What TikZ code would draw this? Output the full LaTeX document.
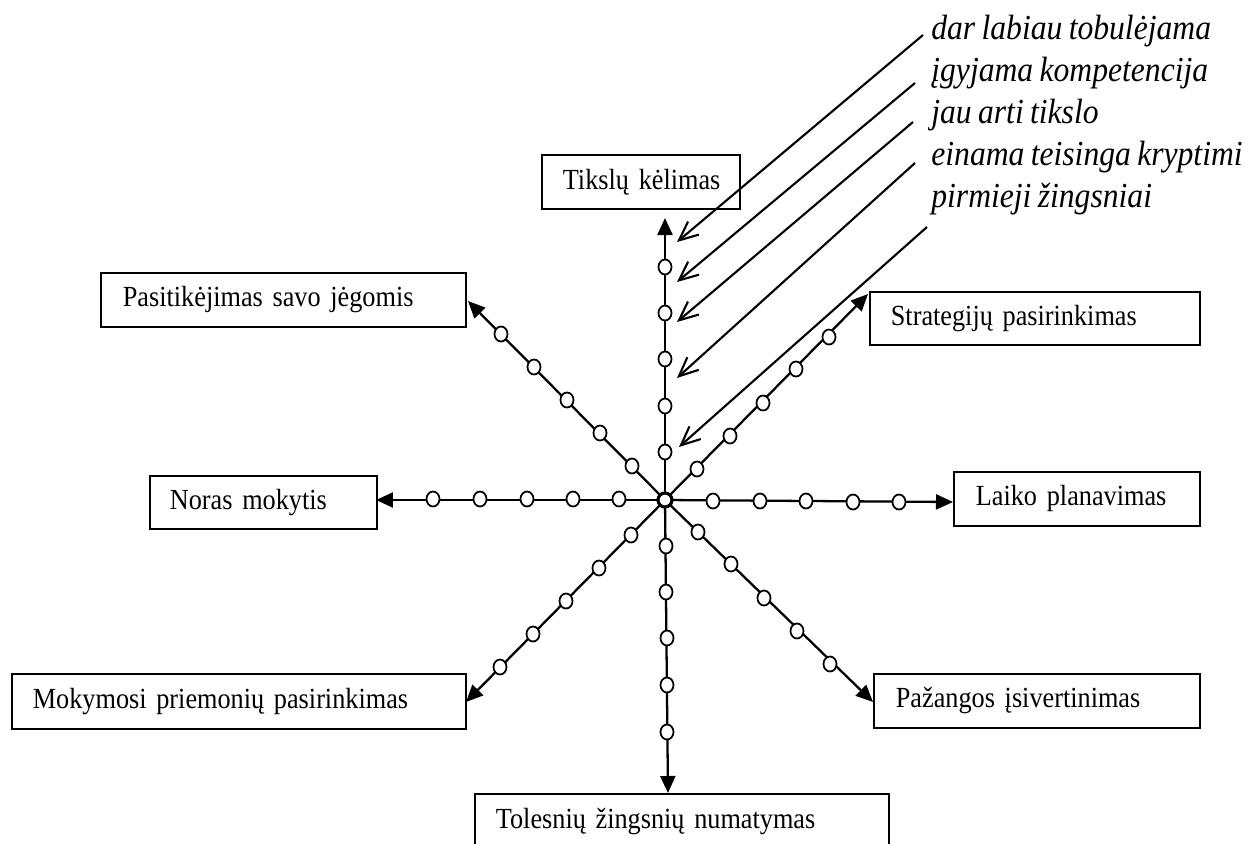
\documentclass[tikz,border=0pt]{standalone}
\usepackage{fontspec}
\setmainfont[FakeStretch=0.9,WordSpace=0.8]{Liberation Serif}
\usetikzlibrary{arrows.meta}
\begin{document}
\begin{tikzpicture}[x=0.02cm,y=-0.02cm,
  boxnode/.style={draw, line width=1pt, anchor=north west, inner ysep=0pt, align=left,
    font=\fontsize{16.6}{19}\selectfont},
  lab/.style={anchor=base west, inner sep=0pt, font=\fontsize{20}{23}\selectfont\itshape},
  axis/.style={line width=1.3pt, -{Triangle[length=0.34cm,width=0.3cm]}},
  pointer/.style={line width=1.2pt, -{Straight Barb[length=0.38cm,width=0.34cm,line width=1.2pt]}},
  dotc/.style={draw, fill=white, line width=1pt},
]
\useasboundingbox (0,0) rectangle (1252,843);
\clip (0,0) rectangle (1252,843);

% boxes
\node[boxnode, minimum width=3.96cm, minimum height=1.08cm, inner xsep=0.42cm, text width=3.12cm] (tik) at (541,154) {\mbox{Tikslų kėlimas}};
\node[boxnode, minimum width=7.3cm, minimum height=1.08cm, inner xsep=0.44cm, text width=6.42cm] (pas) at (100,272) {\mbox{Pasitikėjimas savo jėgomis}};
\node[boxnode, minimum width=6.6cm, minimum height=1.06cm, inner xsep=0.42cm, text width=5.76cm] (str) at (869,291) {\mbox{Strategijų pasirinkimas}};
\node[boxnode, minimum width=4.54cm, minimum height=1.06cm, inner xsep=0.4cm, text width=3.74cm] (nor) at (149,475) {\mbox{Noras mokytis}};
\node[boxnode, minimum width=4.92cm, minimum height=1.08cm, inner xsep=0.44cm, text width=4.04cm] (lai) at (953,471) {\mbox{Laiko planavimas}};
\node[boxnode, minimum width=9.08cm, minimum height=1.1cm, inner xsep=0.42cm, text width=8.24cm] (mok) at (11,673) {\mbox{Mokymosi priemonių pasirinkimas}};
\node[boxnode, minimum width=6.52cm, minimum height=1.08cm, inner xsep=0.44cm, text width=5.64cm] (paz) at (873,673) {\mbox{Pažangos įsivertinimas}};
\node[boxnode, minimum width=8.28cm, minimum height=1.12cm, inner xsep=0.42cm, text width=7.44cm] (tol) at (474,793) {\mbox{Tolesnių žingsnių numatymas}};

% labels
\node[lab] (l1) at (931,39) {dar labiau tobulėjama};
\node[lab] (l2) at (931,81) {įgyjama kompetencija};
\node[lab] (l3) at (931,123) {jau arti tikslo};
\node[lab] (l4) at (931,165) {einama teisinga kryptimi};
\node[lab] (l5) at (931,207) {pirmieji žingsniai};

% pointer arrows
\coordinate (p1s) at (923,35);  \coordinate (p1e) at (677,242);
\coordinate (p2s) at (915,83);  \coordinate (p2e) at (677,282);
\coordinate (p3s) at (913,122); \coordinate (p3e) at (677,322);
\coordinate (p4s) at (915,163); \coordinate (p4e) at (677,378);
\coordinate (p5s) at (927,227); \coordinate (p5e) at (679,447);
\foreach \i in {1,...,5} \draw[pointer] (p\i s) -- (p\i e);

% axes
\coordinate (c) at (665,500);
\coordinate (tU) at (665,218);
\coordinate (tD) at (668,793);
\coordinate (tL) at (376,500);
\coordinate (tR) at (953,502);
\coordinate (tUL) at (468,301);
\coordinate (tUR) at (868,294);
\coordinate (tLL) at (466,702);
\coordinate (tLR) at (873,702);
\foreach \t in {tU,tD,tL,tR,tUL,tUR,tLL,tLR} \draw[axis] (c) -- (\t);

% small circles
\foreach \p in {(665,452),(665,406),(665,359),(665,313),(665,267),
                (666,546),(666,592),(667,638),(667,685),(667,732),
                (619,499),(573,499),(527,499),(480,499),(433,499),
                (713,501),(760,501),(806,501),(853,502),(899,502),
                (632,466),(600,433),(567,400),(534,367),(501,334),
                (697,469),(730,436),(763,403),(796,369),(829,337),
                (631,535),(599,568),(566,601),(533,634),(500,667),
                (698,532),(731,564),(764,598),(797,631),(830,664)}
  \filldraw[dotc] \p ellipse [x radius=0.13cm, y radius=0.15cm];

% centre
\filldraw[draw, fill=white, line width=1.8pt] (c) circle [radius=0.14cm];
\end{tikzpicture}
\end{document}
